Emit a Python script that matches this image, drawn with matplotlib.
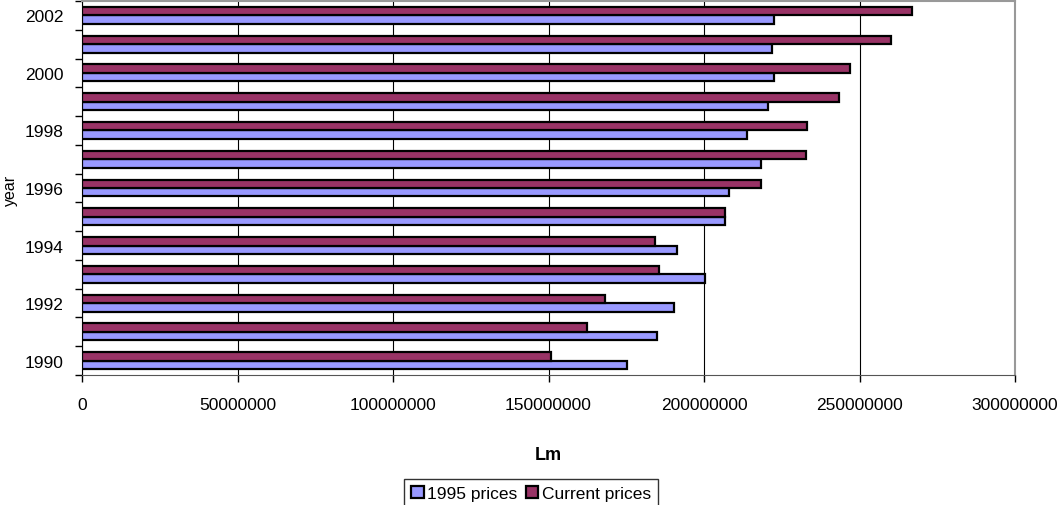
import numpy as np
import matplotlib.pyplot as plt
from matplotlib.ticker import FixedLocator

plt.rcParams['font.family'] = ['Liberation Sans', 'DejaVu Sans']

# Data
years = [1990, 1991, 1992, 1993, 1994, 1995, 1996, 1997, 1998, 1999, 2000, 2001, 2002]
prices_1995 = [175.1e6, 184.8e6, 190.5e6, 200.3e6, 191.4e6, 206.8e6, 208.1e6,
               218.3e6, 213.7e6, 220.6e6, 222.5e6, 222.0e6, 222.5e6]
current_prices = [150.8e6, 162.3e6, 168.2e6, 185.6e6, 184.4e6, 206.8e6, 218.3e6,
                  232.8e6, 233.0e6, 243.5e6, 246.9e6, 260.1e6, 266.8e6]
xticks = [0, 50000000, 100000000, 150000000, 200000000, 250000000, 300000000]

blue = '#9999FF'
maroon = '#993366'

fig = plt.figure(figsize=(10.61, 5.06), dpi=100)
ax = fig.add_axes([82/1061, 1 - 376/506, 933/1061, 374/506])

pos = np.arange(len(years))
h = 0.295
ax.barh(pos - h/2, prices_1995, height=h, color=blue, edgecolor='black',
        linewidth=1.6, label='1995 prices', zorder=3)
ax.barh(pos + h/2, current_prices, height=h, color=maroon, edgecolor='black',
        linewidth=1.6, label='Current prices', zorder=3)

ax.set_xlim(0, 300000000)
ax.set_ylim(-0.5, len(years) - 0.5)

# x axis
ax.set_xticks(xticks)
ax.set_xticklabels([str(v) for v in xticks], fontsize=12.5)
ax.tick_params(axis='x', length=5, width=1, pad=11)
ax.grid(axis='x', color='black', linewidth=0.8, zorder=0)

# y axis: boundary ticks, labels every other year
ax.yaxis.set_major_locator(FixedLocator(np.arange(-0.5, len(years), 1.0)))
ax.set_yticklabels([])
ax.yaxis.set_minor_locator(FixedLocator(pos[::2]))
ax.set_yticklabels([str(y) for y in years[::2]], minor=True, fontsize=12.5)
ax.tick_params(axis='y', which='major', length=5, width=1)
ax.tick_params(axis='y', which='minor', length=0, pad=13)

for s in ['top', 'right']:
    ax.spines[s].set_color('#999999')
    ax.spines[s].set_linewidth(1.5)
ax.spines['left'].set_color('black')
ax.spines['bottom'].set_color('#555555')

ax.set_xlabel('Lm', fontsize=13, fontweight='bold', labelpad=24)
fig.text(10/1061, 1 - 190/506, 'year', rotation=90, fontsize=11.5,
         ha='center', va='center')

leg = fig.legend(loc='upper center', bbox_to_anchor=(531/1061, 1 - 480/506),
                 ncol=2, fontsize=12.5, frameon=True, fancybox=False,
                 edgecolor='black', handlelength=0.7, handleheight=0.7,
                 handletextpad=0.2, columnspacing=0.5, borderpad=0.4,
                 borderaxespad=0)
leg.get_frame().set_linewidth(1.0)

fig.savefig('out.png', dpi=100)
